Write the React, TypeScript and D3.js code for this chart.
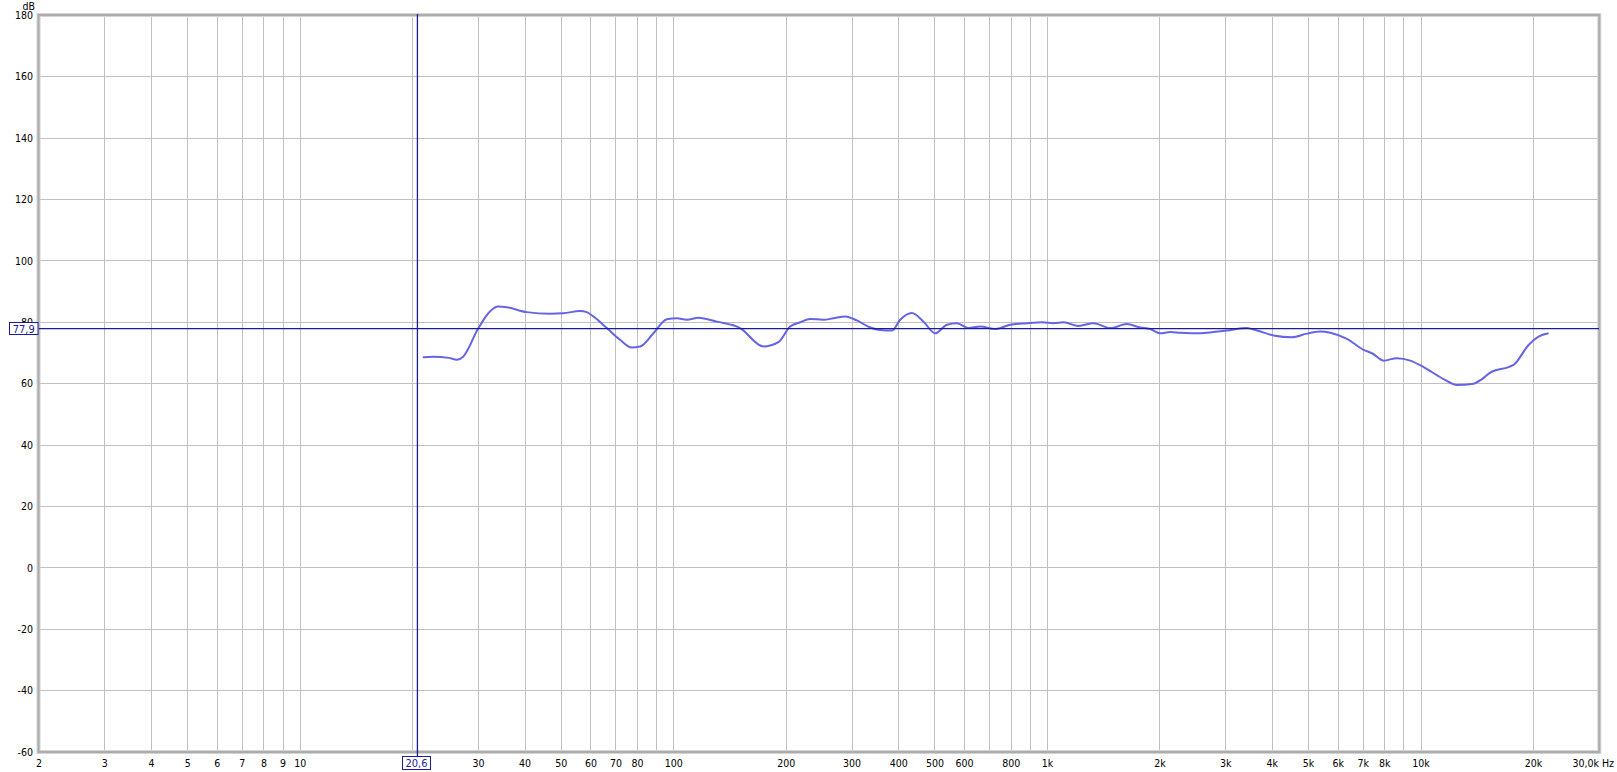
import React from "react";
import * as d3 from "d3";

const freqs = [21.3, 22.7, 25, 26.3, 27.3, 30.0, 32.2, 33.9, 35.7, 40.4, 46.7, 50.6, 56.1, 58.5, 60.9, 66.2, 71.8, 77.2, 81.3, 88.2, 95.8, 101.9, 108.4, 116.4, 130.4, 150.5, 173.8, 190.6, 204.8, 217.8, 231.7, 251.4, 267.5, 287.6, 309, 335.5, 356.8, 383.6, 403.7, 433.7, 466, 500.6, 538.3, 572.4, 614.9, 660.6, 724.8, 795, 881.2, 966.8, 1038.6, 1104.3, 1211, 1328.6, 1472.3, 1632.4, 1772.3, 1884.9, 2004, 2131, 2267, 2565, 2784, 3023, 3419, 3636, 4030, 4513, 4951, 5374, 5715, 6337, 7021, 7393, 7940, 8620, 9358, 10158, 11489, 12478, 13824, 14560, 15320, 17150, 17690, 19400, 20630, 21940];
const spl = [68.6, 68.8, 68.4, 67.8, 68.8, 78.1, 83.5, 85.1, 84.9, 83.3, 82.8, 82.9, 83.7, 83.3, 81.9, 78.1, 74.3, 71.8, 72.1, 76.4, 81.0, 81.3, 80.8, 81.5, 80.2, 78.1, 72.1, 73.5, 78.6, 80.0, 81.1, 80.8, 81.3, 81.9, 80.6, 78.3, 77.5, 77.3, 80.8, 83.0, 80.2, 76.4, 79.2, 79.7, 78.1, 78.6, 77.8, 79.2, 79.7, 80.0, 79.7, 80.0, 78.8, 79.7, 78.1, 79.4, 78.3, 77.8, 76.4, 76.8, 76.6, 76.4, 76.8, 77.3, 78.1, 77.3, 75.7, 75.1, 76.3, 77.0, 76.6, 74.6, 71.0, 69.9, 67.5, 68.3, 67.5, 65.4, 61.5, 59.6, 60.0, 61.5, 63.6, 65.4, 66.1, 72.6, 75.3, 76.4];

const yTicks = [-60, -40, -20, 0, 20, 40, 60, 80, 100, 120, 140, 160, 180];
const gridFreqs = [2, 3, 4, 5, 6, 7, 8, 9, 10, 20, 30, 40, 50, 60, 70, 80, 90, 100, 200, 300, 400, 500, 600, 700, 800, 900, 1000, 2000, 3000, 4000, 5000, 6000, 7000, 8000, 9000, 10000, 20000, 30000];
const xLabelFreqs = [2, 3, 4, 5, 6, 7, 8, 9, 10, 20, 30, 40, 50, 60, 70, 80, 100, 200, 300, 400, 500, 600, 800, 1000, 2000, 3000, 4000, 5000, 6000, 7000, 8000, 10000, 20000];
const xLabelTexts = ["2", "3", "4", "5", "6", "7", "8", "9", "10", "20", "30", "40", "50", "60", "70", "80", "100", "200", "300", "400", "500", "600", "800", "1k", "2k", "3k", "4k", "5k", "6k", "7k", "8k", "10k", "20k"];
const cursorFreq = 20.6;
const cursorDb = 77.9;
const cursorFreqText = "20,6";
const cursorDbText = "77,9";
const endLabel = "30,0k Hz";

export default function App() {
  const W = 1617, H = 772;
  const x = d3.scaleLog().domain([2, 30000]).range([39, 1599.3]);
  const y = d3.scaleLinear().domain([-60, 180]).range([752, 15.3]);
  const line = d3
    .line<number>()
    .x((_, i) => x(freqs[i]))
    .y((d) => y(d))
    .curve(d3.curveMonotoneX);
  const font = "'DejaVu Sans Condensed', 'Liberation Sans Narrow', 'Liberation Sans', sans-serif";
  const blue = "#1c1c98";
  const fs = 10.5;
  const cx = x(cursorFreq);
  const cy = y(cursorDb);
  return (
    <svg width={W} height={H} style={{ position: "absolute", left: 0, top: 0, background: "#fff" }} fontFamily={font}>
      <rect x={0} y={0} width={W} height={H} fill="#fff" />
      {yTicks.map((t) => (
        <line key={"h" + t} x1={x(2)} x2={x(30000)} y1={y(t)} y2={y(t)} stroke="#c0c0c0" strokeWidth={1} shapeRendering="crispEdges" />
      ))}
      {gridFreqs.map((f) => (
        <line key={"v" + f} x1={x(f)} x2={x(f)} y1={y(180)} y2={y(-60)} stroke="#c0c0c0" strokeWidth={1} shapeRendering="crispEdges" />
      ))}
      <rect x={38.5} y={15} width={1560.8} height={737} fill="none" stroke="#d4d4d4" strokeWidth={4} />
      <rect x={38.5} y={15} width={1560.8} height={737} fill="none" stroke="#acacac" strokeWidth={2} />
      {yTicks.map((t) => (
        <text key={"yl" + t} x={33} y={y(t)} dy="0.36em" textAnchor="end" fontSize={fs} fill="#000">
          {t}
        </text>
      ))}
      <text x={35} y={9.5} textAnchor="end" fontSize={fs} fill="#000">dB</text>
      {xLabelFreqs.map((f, i) => (
        <text key={"xl" + f} x={x(f)} y={763} dy="0.36em" textAnchor="middle" fontSize={fs} fill="#000">
          {xLabelTexts[i]}
        </text>
      ))}
      <text x={1614} y={763} dy="0.36em" textAnchor="end" fontSize={fs} fill="#000">{endLabel}</text>
      <path d={line(spl) || ""} fill="none" stroke="#6464e4" strokeWidth={2} strokeLinejoin="round" />
      <line x1={39} x2={1599} y1={cy} y2={cy} stroke={blue} strokeWidth={1.3} />
      <line x1={cx} x2={cx} y1={14} y2={757} stroke={blue} strokeWidth={1.3} />
      <rect x={9.5} y={322.5} width={28.5} height={12} fill="#fff" stroke={blue} strokeWidth={1} />
      <text x={23.7} y={328.7} dy="0.36em" textAnchor="middle" fontSize={11} fill={blue}>{cursorDbText}</text>
      <rect x={402.5} y={756.5} width={28} height={13} fill="#fff" stroke={blue} strokeWidth={1} />
      <text x={416.5} y={763.2} dy="0.36em" textAnchor="middle" fontSize={11} fill={blue}>{cursorFreqText}</text>
    </svg>
  );
}
